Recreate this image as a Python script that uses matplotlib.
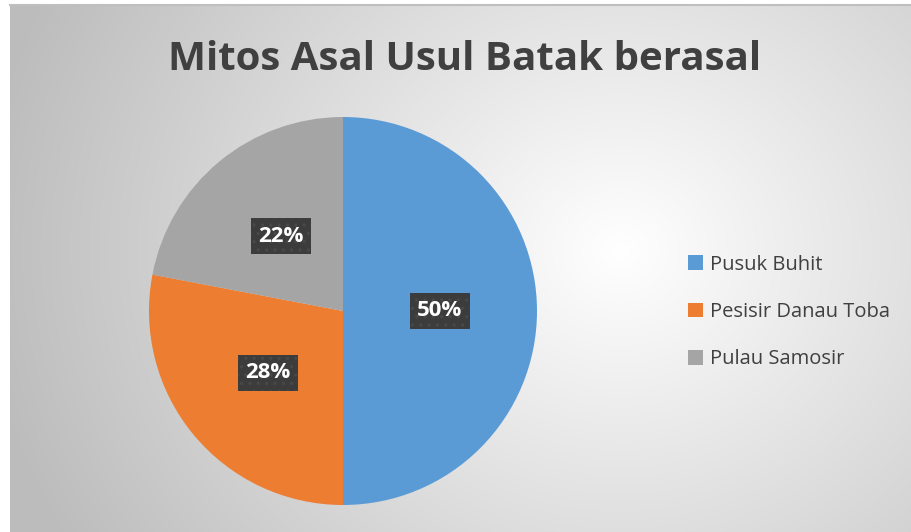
import numpy as np
import matplotlib
matplotlib.use("Agg")
import matplotlib.pyplot as plt

# --- data ---
categories = ["Pusuk Buhit", "Pesisir Danau Toba", "Pulau Samosir"]
shares = [50, 28, 22]
colors = ["#5B9BD5", "#ED7D31", "#A5A5A5"]
title = "Mitos Asal Usul Batak berasal"

plt.rcParams["font.family"] = ["Open Sans", "DejaVu Sans"]
plt.rcParams["hatch.linewidth"] = 1.2

W, H = 912, 532
fig = plt.figure(figsize=(W / 100, H / 100), dpi=100)
fig.patch.set_facecolor("white")

# --- chart area background: radial grey gradient ---
x0, y0 = 10, 5  # top-left of chart area in pixels
bg = fig.add_axes([x0 / W, 0, (W - x0) / W, (H - y0) / H])
yy, xx = np.mgrid[0:H - y0, 0:W - x0]
cx, cy = 610, 245
d = np.sqrt(((xx - cx) / 1.0) ** 2 + ((yy - cy) / 0.9) ** 2)
d = np.clip(d / 640, 0, 1)
shade = 1.0 - 0.26 * d
img = np.dstack([shade, shade, shade])
bg.imshow(img, aspect="auto", interpolation="bilinear")
bg.set_axis_off()
# thin top border of chart area
fig.add_artist(plt.Line2D([x0 / W, 1], [1 - y0 / H, 1 - y0 / H],
                          color="#bfbfbf", lw=1.5))

# --- title ---
fig.text(465 / W, 1 - 59 / H, title, ha="center", va="center",
         fontsize=29, fontweight="bold", color="#404040")

# --- pie ---
cxp, cyp, r = 343, 311, 194
ax = fig.add_axes([(cxp - r) / W, (H - cyp - r) / H, 2 * r / W, 2 * r / H])
ax.set_facecolor("none")
wedges, texts, autotexts = ax.pie(
    shares, colors=colors, startangle=90, counterclock=False,
    autopct="%d%%", pctdistance=0.5,
    wedgeprops=dict(linewidth=0),
    textprops=dict(color="white", fontsize=16, fontweight="bold"),
)
for t in autotexts:
    t.set_bbox(dict(boxstyle="square,pad=0.34", fc="#3c3c3c", ec="#484848",
                    hatch="..", lw=0))
ax.set_xlim(-1, 1)
ax.set_ylim(-1, 1)
ax.set_aspect("equal")

# --- legend ---
leg = fig.legend(wedges, categories, loc="center left",
                 bbox_to_anchor=(670 / W, 1 - 312 / H), frameon=False,
                 fontsize=14.5, labelspacing=1.35, handlelength=0.75,
                 handleheight=0.75, handletextpad=0.35, labelcolor="#404040")

fig.savefig("out.png", dpi=100)
